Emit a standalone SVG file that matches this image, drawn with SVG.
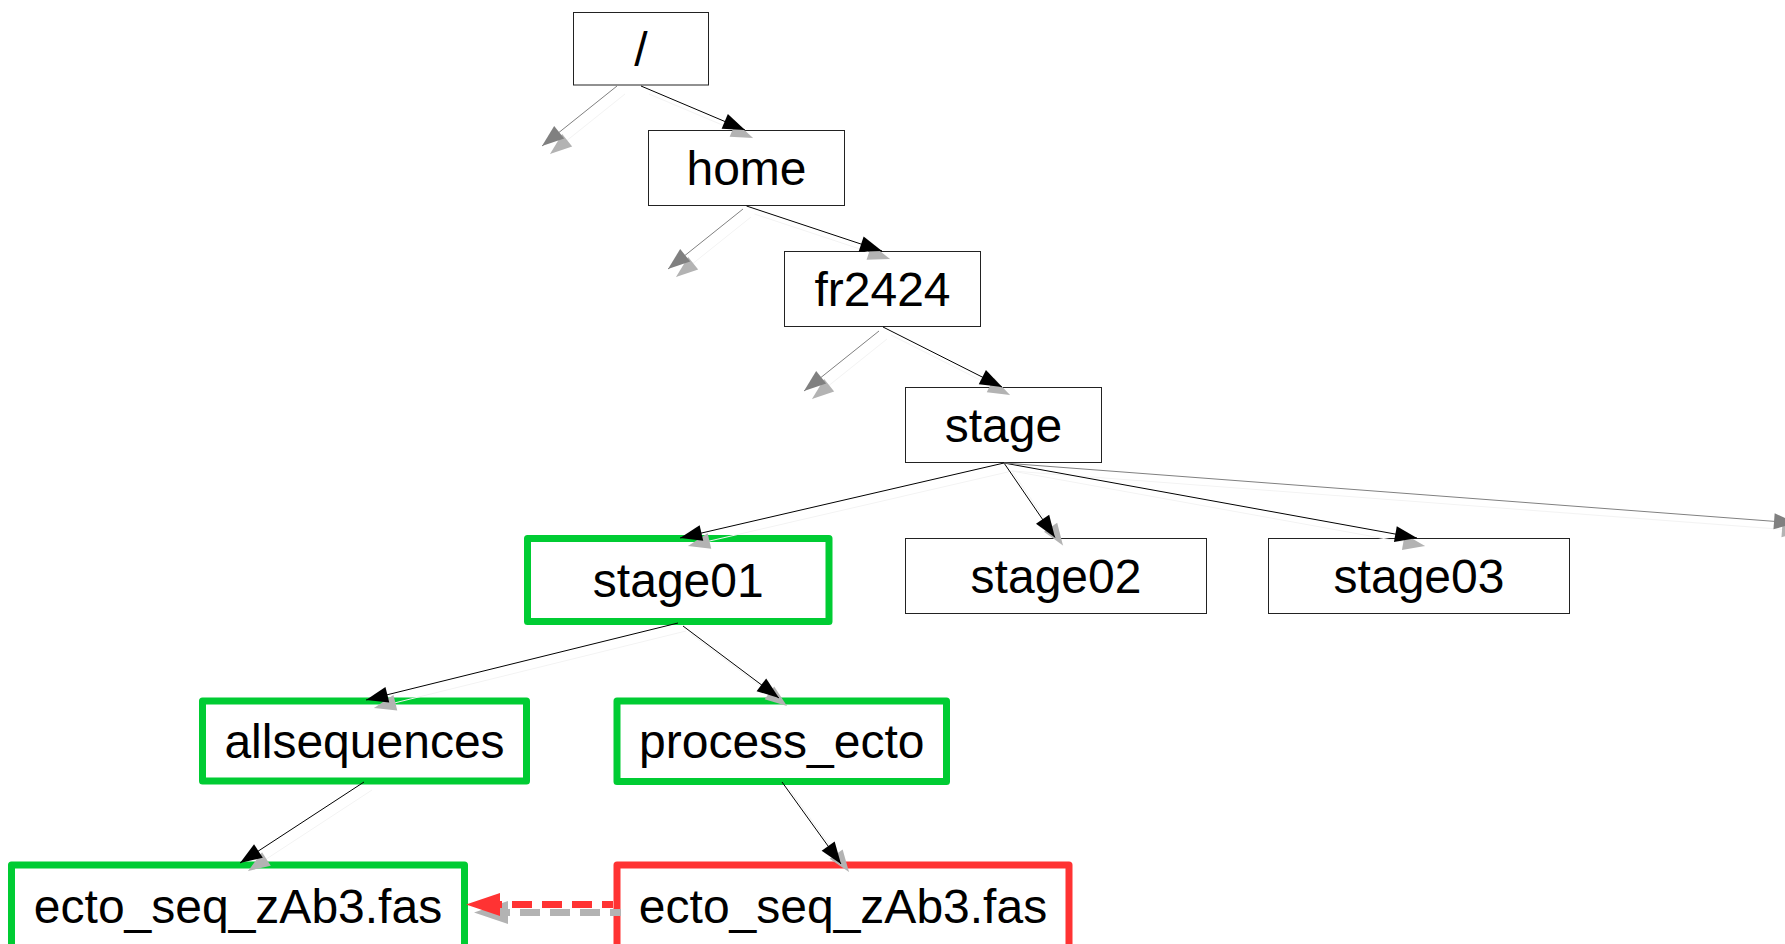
<svg xmlns="http://www.w3.org/2000/svg" width="1785" height="944" viewBox="0 0 1785 944">
<style>
.box{fill:#ffffff;stroke:#222222;stroke-width:1}
.green{fill:#ffffff;stroke:#00cc33;stroke-width:7;stroke-linejoin:round}
.red{fill:#ffffff;stroke:#ff3333;stroke-width:7;stroke-linejoin:round}
text{font-family:"Liberation Sans",Arial,sans-serif;font-size:48px;fill:#000000;text-anchor:middle}
.e{fill:none;stroke:#000000;stroke-width:1;marker-end:url(#mb)}
.d{fill:none;stroke:#808080;stroke-width:1;marker-end:url(#mg)}
.s{fill:none;stroke:#f3f3f3;stroke-width:1;marker-end:url(#ms)}
.rd{fill:none;stroke:#ff3333;stroke-width:7;stroke-dasharray:20 10;stroke-dashoffset:9;marker-end:url(#mr)}
.rs{fill:none;stroke:#b3b3b3;stroke-width:7;stroke-dasharray:20 10;stroke-dashoffset:9;marker-end:url(#mrs)}
</style>
<defs>
<marker id="mb" markerUnits="userSpaceOnUse" markerWidth="24" markerHeight="18" refX="22" refY="8" orient="auto" overflow="visible"><path d="M0,0 L22,8 L0,16 z" fill="#000000"/></marker>
<marker id="mg" markerUnits="userSpaceOnUse" markerWidth="24" markerHeight="18" refX="22" refY="8" orient="auto" overflow="visible"><path d="M0,0 L22,8 L0,16 z" fill="#808080"/></marker>
<marker id="ms" markerUnits="userSpaceOnUse" markerWidth="24" markerHeight="18" refX="22" refY="8" orient="auto" overflow="visible"><path d="M0,0 L22,8 L0,16 z" fill="#b3b3b3"/></marker>
<marker id="mr" markerUnits="userSpaceOnUse" markerWidth="36" markerHeight="25" refX="0" refY="11.5" orient="auto" overflow="visible"><path d="M0,0 L34,11.5 L0,23 z" fill="#ff3333"/></marker>
<marker id="mrs" markerUnits="userSpaceOnUse" markerWidth="36" markerHeight="25" refX="0" refY="11.5" orient="auto" overflow="visible"><path d="M0,0 L34,11.5 L0,23 z" fill="#b3b3b3"/></marker>
</defs>
<rect width="1785" height="944" fill="#ffffff"/>
<g id="node-root"><rect class="box" x="573.5" y="12.5" width="135" height="72.5"/><text x="641" y="65.5">/</text></g>
<g id="node-home"><rect class="box" x="648.5" y="130.5" width="196" height="75"/><text x="746.5" y="184.5">home</text></g>
<g id="node-fr2424"><rect class="box" x="784.5" y="251.5" width="196" height="75"/><text x="882.5" y="306">fr2424</text></g>
<g id="node-stage"><rect class="box" x="905.5" y="387.5" width="196" height="75"/><text x="1003.5" y="442">stage</text></g>
<g id="node-stage01"><rect class="green" x="527.5" y="538.5" width="301.5" height="83"/><text x="678.25" y="597">stage01</text></g>
<g id="node-stage02"><rect class="box" x="905.5" y="538.5" width="301" height="75"/><text x="1056" y="593">stage02</text></g>
<g id="node-stage03"><rect class="box" x="1268.5" y="538.5" width="301" height="75"/><text x="1419" y="593">stage03</text></g>
<g id="node-allsequences"><rect class="green" x="202.5" y="701" width="324" height="80"/><text x="364.5" y="758">allsequences</text></g>
<g id="node-process_ecto"><rect class="green" x="617" y="701" width="329.5" height="80.5"/><text x="781.75" y="758">process_ecto</text></g>
<g id="node-ecto-left"><rect class="green" x="11.5" y="865" width="453" height="83"/><text x="238" y="923">ecto_seq_zAb3.fas</text></g>
<g id="node-ecto-right"><rect class="red" x="617" y="865" width="452" height="83"/><text x="843" y="923">ecto_seq_zAb3.fas</text></g>
<g id="connectors">
<g id="shadows" transform="translate(8,8)">
<path class="s" d="M641,86 L745,130"/>
<path class="s" d="M617,86 L542,146"/>
<path class="s" d="M746.5,206 L882,251"/>
<path class="s" d="M743,209 L668,269"/>
<path class="s" d="M883,327 L1002,387"/>
<path class="s" d="M879,331 L804,391"/>
<path class="s" d="M1004,463 L680,538"/>
<path class="s" d="M1004,463 L1055,537.5"/>
<path class="s" d="M1004,463 L1417,538"/>
<path class="s" d="M1004,463 L1796,523"/>
<path class="s" d="M678,623 L366,700"/>
<path class="s" d="M683,626 L779,698"/>
<path class="s" d="M364,782 L240,863"/>
<path class="s" d="M782,782 L841,864"/>
<path class="rs" d="M613,904.5 H500"/>
</g>
<path class="e" d="M641,86 L745,130"/>
<path class="d" d="M617,86 L542,146"/>
<path class="e" d="M746.5,206 L882,251"/>
<path class="d" d="M743,209 L668,269"/>
<path class="e" d="M883,327 L1002,387"/>
<path class="d" d="M879,331 L804,391"/>
<path class="e" d="M1004,463 L680,538"/>
<path class="e" d="M1004,463 L1055,537.5"/>
<path class="e" d="M1004,463 L1417,538"/>
<path class="d" d="M1004,463 L1796,523"/>
<path class="e" d="M678,623 L366,700"/>
<path class="e" d="M683,626 L779,698"/>
<path class="e" d="M364,782 L240,863"/>
<path class="e" d="M782,782 L841,864"/>
<path class="rd" d="M613,904.5 H500"/>
</g>
</svg>
